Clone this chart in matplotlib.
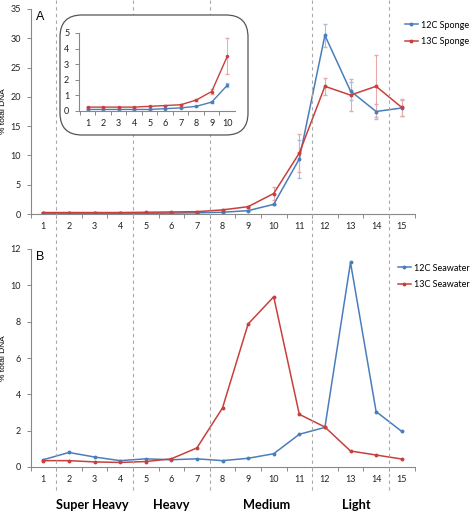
import matplotlib
matplotlib.use("Agg")
import matplotlib.pyplot as plt
import matplotlib.transforms as mtransforms
from matplotlib.patches import FancyBboxPatch
from matplotlib.lines import Line2D
import numpy as np

plt.rcParams['font.family'] = ['Lato', 'DejaVu Sans']

# ---- data ----
fractions = list(range(1, 16))

sponge_12c = [0.1, 0.1, 0.1, 0.1, 0.1, 0.15, 0.2, 0.3, 0.57, 1.65, 9.4, 30.5, 21.0, 17.5, 18.1]
sponge_12c_err = [0.02, 0.02, 0.02, 0.02, 0.02, 0.02, 0.03, 0.05, 0.08, 0.12, 3.2, 2.0, 1.6, 1.2, 1.4]
sponge_13c = [0.25, 0.25, 0.25, 0.25, 0.3, 0.35, 0.4, 0.7, 1.25, 3.5, 10.4, 21.8, 20.3, 21.8, 18.2]
sponge_13c_err = [0.03, 0.03, 0.03, 0.03, 0.03, 0.03, 0.04, 0.08, 0.15, 1.15, 3.2, 1.5, 2.7, 5.3, 1.4]

seawater_12c = [0.4, 0.8, 0.55, 0.35, 0.45, 0.4, 0.45, 0.35, 0.48, 0.73, 1.8, 2.18, 11.26, 3.05, 1.96]
seawater_13c = [0.35, 0.35, 0.28, 0.25, 0.3, 0.45, 1.05, 3.25, 7.87, 9.37, 2.9, 2.2, 0.88, 0.66, 0.44]

boundaries = [1.5, 4.5, 7.5, 11.5, 14.5]
density_labels = ["Super Heavy", "Heavy", "Medium", "Light"]
density_label_x = [92, 171, 267, 356]   # pixel centres

blue = "#4a7ebb"
red = "#c8403d"
blue_err = "#a9bedf"
red_err = "#eaa8a6"
axis_col = "#888888"

W, H = 474, 514
fig = plt.figure(figsize=(W / 100, H / 100), dpi=100)


def px_axes(left, right, top, bottom):
    return [left / W, 1 - bottom / H, (right - left) / W, (bottom - top) / H]


def style_axes(ax, xmax, labelsize=6.5):
    for s in ["top", "right"]:
        ax.spines[s].set_visible(False)
    for s in ["left", "bottom"]:
        ax.spines[s].set_color(axis_col)
        ax.spines[s].set_linewidth(0.8)
    ax.set_xticks(range(1, xmax + 1))
    ax.set_xticks(np.arange(0.5, xmax + 0.6, 1), minor=True)
    ax.tick_params(axis="x", which="major", length=0, pad=6, labelsize=labelsize, colors="#222222")
    ax.tick_params(axis="x", which="minor", length=3, width=0.7, color=axis_col)
    ax.tick_params(axis="y", length=3, width=0.7, color=axis_col, labelsize=labelsize,
                   labelcolor="#222222", pad=4)
    ax.set_facecolor("none")


# ---- panel A ----
axA = fig.add_axes(px_axes(30.5, 414.5, 9, 214))
axA.errorbar(fractions, sponge_12c, yerr=sponge_12c_err, color=blue, lw=1.1, marker="o", ms=1.8,
             ecolor=blue_err, elinewidth=0.8, capsize=1.5, label="12C Sponge")
axA.errorbar(fractions, sponge_13c, yerr=sponge_13c_err, color=red, lw=1.1, marker="o", ms=1.8,
             ecolor=red_err, elinewidth=0.8, capsize=1.5, label="13C Sponge")
axA.set_xlim(0.5, 15.5)
axA.set_ylim(0, 35)
axA.set_yticks(range(0, 36, 5))
style_axes(axA, 15)
axA.set_ylabel("% total DNA", fontsize=6, family=["Liberation Sans"])
axA.yaxis.set_label_coords(-23.5 / 384, 0.5)
axA.text(0.015, 0.99, "A", transform=axA.transAxes, fontsize=9, family=["Liberation Sans"], va="top")
hA, lA = axA.get_legend_handles_labels()
axA.legend([h[0] for h in hA], lA, loc="upper left", bbox_to_anchor=(401 / W, 1 - 17 / H),
           bbox_transform=fig.transFigure, frameon=False, fontsize=6.5, handlelength=1.5,
           handletextpad=0.3, labelspacing=0.8, borderaxespad=0)

# ---- panel B ----
axB = fig.add_axes(px_axes(30.5, 414.5, 249, 467))
axB.plot(fractions, seawater_12c, color=blue, lw=1.1, marker="o", ms=1.8, label="12C Seawater")
axB.plot(fractions, seawater_13c, color=red, lw=1.1, marker="o", ms=1.8, label="13C Seawater")
axB.set_xlim(0.5, 15.5)
axB.set_ylim(0, 12)
axB.set_yticks(range(0, 13, 2))
style_axes(axB, 15)
axB.set_ylabel("% total DNA", fontsize=6, family=["Liberation Sans"])
axB.yaxis.set_label_coords(-23.5 / 384, 0.5)
axB.text(0.015, 0.99, "B", transform=axB.transAxes, fontsize=9, family=["Liberation Sans"], va="top")
axB.legend(loc="upper left", bbox_to_anchor=(394 / W, 1 - 260 / H),
           bbox_transform=fig.transFigure, frameon=False, fontsize=6.5, handlelength=1.5,
           handletextpad=0.3, labelspacing=0.8, borderaxespad=0)

# ---- fraction boundaries across both panels ----
trans = mtransforms.blended_transform_factory(axA.transData, fig.transFigure)
for b in boundaries:
    fig.add_artist(Line2D([b, b], [1.0, 1 - 490 / H], transform=trans, color="#a8a8a8",
                          lw=0.8, ls=(0, (3, 3)), zorder=0.5))

for lab, x in zip(density_labels, density_label_x):
    fig.text(x / W, 1 - 505 / H, lab, ha="center", va="center", fontsize=9.2, fontweight="bold")

# ---- inset ----
box = FancyBboxPatch((0.60, (H - 135) / 100), 1.88, 1.20,
                     boxstyle="round,pad=0,rounding_size=0.22",
                     transform=fig.dpi_scale_trans, facecolor="white",
                     edgecolor="#555555", lw=0.9, zorder=1)
fig.add_artist(box)

axI = fig.add_axes(px_axes(79, 235, 33, 111))
axI.set_zorder(2)
n = 10
axI.errorbar(fractions[:n], sponge_12c[:n], yerr=sponge_12c_err[:n], color=blue, lw=1.0, marker="o", ms=1.5,
             ecolor=blue_err, elinewidth=0.7, capsize=1.2)
axI.errorbar(fractions[:n], sponge_13c[:n], yerr=sponge_13c_err[:n], color=red, lw=1.0, marker="o", ms=1.5,
             ecolor=red_err, elinewidth=0.7, capsize=1.2)
axI.set_xlim(0.45, 10.25)
axI.set_ylim(0, 5)
axI.set_yticks(range(0, 6))
style_axes(axI, 10, labelsize=6.5)
axI.set_xticks(np.arange(0.5, 10.3, 1), minor=True)

fig.savefig("out.png", dpi=100)
